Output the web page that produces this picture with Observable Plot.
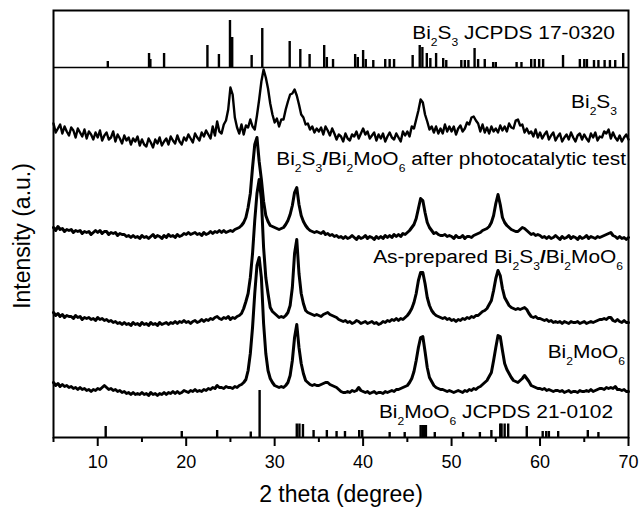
<!DOCTYPE html>
<html><head><meta charset="utf-8">
<script src="https://cdn.jsdelivr.net/npm/d3@7"></script>
<script src="https://cdn.jsdelivr.net/npm/@observablehq/plot@0.6"></script>
<style>html,body{margin:0;padding:0;background:#fff}</style>
</head><body><div id="chart"></div>
<script>
// ---- scan grid (2 theta, degree) ----
const thetaStart = 5, thetaStep = 0.25;

// ---- intensities (a.u., stacked as displayed) ----
const bi2s3 = [
314,305,309,313, 304,311,306,302, 310,307,300,309, 305,301,308,299, 306,303,298,305,
300,307,297,302, 305,298,300,306, 296,303,299,294, 302,297,300,293, 299,296,301,292,
298,293,291,299, 295,290,298,294, 300,292,296,299, 293,301,297,294, 302,296,293,300,
297,303,299,295, 304,300,297,305, 301,307,303,299, 311,302,316,306, 304,313,317,328,
350,343,320,310, 304,313,303,312, 310,318,311,308, 322,338,356,368, 360,349,334,323,
315,319,311,318, 318,328,336,343, 344,348,342,333, 323,320,313,314, 308,311,305,309,
306,310,303,311, 307,302,309,304, 298,303,301,296, 304,299,297,303, 301,306,299,304,
309,303,306,299, 302,305,297,303, 299,304,296,301, 305,300,298,304, 300,296,306,302,
306,301,311,309, 318,327,338,335, 323,316,308,311, 305,311,304,309, 304,313,306,311,
306,311,303,309, 312,306,309,315, 313,320,321,317, 314,306,313,305, 310,304,311,306,
309,305,312,307, 311,306,314,310, 309,317,318,312, 313,305,309,304, 306,301,308,300,
305,299,303,306, 298,302,305,297, 301,304,296,300, 303,298,305,300, 296,302,304,298,
303,299,296,304, 300,305,297,301, 300,306,304,308, 299,305,300,297, 302,296,300,303,
298];
const afterTest = [
210,207,211,208, 209,206,208,207, 208,205,207,206, 207,204,206,205, 206,203,205,207,
205,207,204,206, 206,203,205,204, 205,202,204,203, 203,201,202,200, 202,200,201,199,
202,200,201,199, 201,203,200,202, 201,199,202,200, 203,201,202,200, 203,201,202,204,
203,205,203,204, 205,203,204,202, 205,203,204,206, 204,206,205,207, 205,207,205,206,
207,206,208,209, 210,212,215,220, 230,244,270,293, 300,276,258,236, 222,216,212,211,
210,209,208,209, 210,213,217,223, 232,245,250,233, 222,216,212,209, 207,206,205,206,
205,204,206,203, 204,202,203,201, 202,200,201,199, 201,199,200,202, 200,198,201,199,
200,202,199,201, 200,198,201,199, 201,199,202,200, 202,200,203,201, 203,201,204,203,
205,207,210,213, 219,229,239,237, 225,215,210,207, 204,205,203,202, 202,203,201,202,
201,199,202,200, 200,202,199,201, 201,200,202,203, 204,205,207,208, 209,211,215,222,
234,243,233,220, 215,212,210,208, 207,206,206,208, 210,209,207,205, 203,204,202,203,
202,200,201,199, 201,199,200,202, 200,198,201,199, 200,202,199,201, 200,198,201,199,
200,202,199,201, 200,199,201,200, 201,202,203,204, 205,202,201,199, 201,199,200,198,
200];
const asPrepared = [
125,122,124,121, 123,120,122,121, 121,119,122,120, 121,118,120,119, 120,118,119,117,
120,118,119,117, 118,116,117,115, 116,114,115,113, 115,113,114,112, 115,113,114,112,
115,113,114,112, 115,113,114,112, 115,113,114,115, 113,115,114,116, 114,116,115,117,
115,116,114,116, 117,115,116,118, 116,118,117,119, 118,120,121,119, 118,120,119,121,
118,120,119,121, 122,124,129,136, 144,160,184,217, 244,258,238,190, 160,144,130,126,
124,122,120,121, 120,122,125,132, 150,184,198,164, 144,134,127,125, 124,123,122,123,
122,121,123,124, 125,123,122,121, 120,118,117,116, 117,115,116,114, 115,117,116,114,
115,116,114,115, 116,114,115,113, 114,116,115,117, 116,118,117,119, 117,119,118,120,
122,125,129,135, 144,157,165,165, 154,140,132,127, 124,122,121,120, 119,120,118,119,
117,118,116,118, 117,119,118,120, 119,121,120,122, 122,124,126,127, 129,133,137,147,
159,167,162,149, 140,136,132,130, 129,128,129,128, 129,130,128,124, 121,120,121,119,
119,118,117,118, 116,117,115,116, 115,116,114,116, 115,114,116,115, 115,116,114,115,
116,114,115,116, 115,116,117,118, 118,119,118,120, 120,117,116,118, 116,115,117,115,
115];
const bi2moo6 = [
55,52,54,51, 53,51,52,50, 51,49,50,48, 50,48,49,47, 48,46,48,47,
49,48,50,52, 50,48,49,47, 48,46,47,45, 46,44,45,43, 45,43,44,43,
45,43,44,42, 45,43,44,42, 44,43,45,43, 45,44,46,44, 46,44,45,47,
46,45,47,46, 48,46,47,46, 48,47,49,48, 50,49,52,50, 50,49,51,50,
50,49,51,50, 52,53,55,58, 67,84,110,144, 172,180,160,114, 84,67,59,55,
52,51,50,51, 50,52,55,62, 77,100,113,90, 74,64,57,55, 53,52,53,52,
52,53,54,55, 55,53,52,51, 50,48,46,45, 45,46,45,47, 46,47,50,47,
46,45,46,44, 45,46,44,45, 45,44,46,45, 46,47,46,48, 48,49,50,51,
52,55,59,66, 77,90,100,101, 86,70,60,56, 52,50,49,48, 48,47,46,47,
46,45,46,47, 46,45,47,46, 48,47,49,48, 50,51,53,55, 57,61,65,77,
90,102,101,87, 74,68,64,60, 57,56,55,57, 59,62,59,56, 52,51,50,49,
49,48,49,47, 48,47,46,47, 47,46,47,45, 46,47,45,46, 46,45,47,46,
46,47,46,48, 46,47,48,49, 49,48,50,49, 50,49,51,48, 48,47,48,46,
46];

// ---- reference patterns (stick positions and heights) ----
const refS_theta = [11.14,15.8,15.95,17.5,22.4,23.7,24.95,25.2,27.4,28.6,31.7,32.9,33.95,35.6,35.9,36.6,
  39.1,39.4,40.0,40.3,41.15,42.5,43.0,43.5,45.6,46.4,46.7,47.2,47.6,48.25,49.05,49.4,51.1,51.5,51.9,
  52.6,53.0,53.75,54.7,55.0,57.35,57.9,59.0,59.4,59.9,60.35,62.6,64.5,65.0,65.3,66.1,66.6,67.3,67.9,68.5,69.4];
const refS_int = [6,14,8,14,22,13,47,30,12,39,26,18,13,22,10,8,
  13,10,17,8,7,8,8,8,12,22,20,14,9,14,9,7,7,7,7,
  19,8,8,5,5,5,5,8,8,8,8,12,8,8,8,7,7,7,7,7,14];
const refM_theta = [10.9,19.5,23.5,27.3,28.3,32.5,32.8,33.2,34.4,35.9,37.0,37.95,39.56,39.9,43.0,44.7,
  46.5,46.7,46.9,47.1,48.1,51.3,53.2,54.5,55.5,55.65,56.0,56.4,58.5,60.3,60.7,61.0,62.05,65.4,66.6];
const refM_int = [11,6,7,5.5,47,13.5,13.5,13,7,7,6,6,7,7,5,5,
  12,12,12,12,5,5,5,7,13.5,13.5,13.5,13.5,11,6,6,6,6,7,5];

const xTicks = [10, 20, 30, 40, 50, 60, 70];
const xMinorTicks = [5, 15, 25, 35, 45, 55, 65];
const separatorLevel = 370;   // baseline of the Bi2S3 reference panel
const yTop = 427;

const seriesList = [["after", afterTest, 3], ["asprep", asPrepared, 3], ["Bi2MoO6", bi2moo6, 3], ["Bi2S3", bi2s3, 2.4]];
const sticksS = refS_theta.map((t, i) => ({theta: t, base: separatorLevel, top: separatorLevel + refS_int[i]}));
const sticksM = refM_theta.map((t, i) => ({theta: t, base: 0, top: refM_int[i]}));

const chart = Plot.plot({
  width: 641, height: 510,
  marginLeft: 53, marginRight: 13, marginTop: 10, marginBottom: 73,
  x: {domain: [5, 70]},
  y: {domain: [0, yTop], axis: null},
  style: {fontFamily: "'Liberation Sans', Arial, sans-serif", background: "white", color: "black"},
  marks: [
    Plot.ruleY([separatorLevel], {stroke: "black", strokeWidth: 1.6}),
    Plot.ruleX(sticksS, {x: "theta", y1: "base", y2: "top", stroke: "black", strokeWidth: 2.4}),
    Plot.ruleX(sticksM, {x: "theta", y1: "base", y2: "top", stroke: "black", strokeWidth: 2.4}),
    ...seriesList.map(([name, arr, w]) => Plot.line(arr, {
      x: (d, i) => thetaStart + i * thetaStep, y: d => d,
      stroke: "black", strokeWidth: w, strokeLinejoin: "round"})),
    Plot.frame({stroke: "black", strokeWidth: 2}),
    Plot.axisX({ticks: xTicks, tickSize: 9, tickPadding: 9, fontSize: 18, label: null, strokeWidth: 2}),
    Plot.axisX({ticks: xMinorTicks, tickSize: 5, tickFormat: () => "", label: null, strokeWidth: 2})
  ]
});

document.getElementById("chart").append(chart);

// ---- labels with chemical subscripts ----
const sx = chart.scale("x"), sy = chart.scale("y");
const svg = d3.select(chart);
const SUB = "sub", BOLD = "b";
function addLabel(parts, theta, level) {
  const t = svg.append("text")
    .attr("transform", `translate(${sx.apply(theta)},${sy.apply(level)}) scale(1.1,1)`)
    .attr("text-anchor", "end").attr("font-size", 19).attr("fill", "black")
    .attr("font-family", "'Liberation Sans', Arial, sans-serif");
  let down = false;
  for (const [s, kind] of parts) {
    const ts = t.append("tspan").text(s);
    if (kind === SUB) { ts.attr("font-size", 11); if (!down) ts.attr("dy", 7); down = true; }
    else { if (down) ts.attr("dy", -7); down = false; if (kind === BOLD) ts.attr("font-weight", "bold"); }
  }
}
addLabel([["Bi"],["2",SUB],["S"],["3",SUB],[" JCPDS 17-0320"]], 68.53, 398);
addLabel([["Bi"],["2",SUB],["S"],["3",SUB]], 68.76, 329);
addLabel([["Bi"],["2",SUB],["S"],["3",SUB],["/",BOLD],["Bi"],["2",SUB],["MoO"],["6",SUB],[" after photocatalytic test"]], 69.78, 272);
addLabel([["As-prepared Bi"],["2",SUB],["S"],["3",SUB],["/",BOLD],["Bi"],["2",SUB],["MoO"],["6",SUB]], 69.44, 174);
addLabel([["Bi"],["2",SUB],["MoO"],["6",SUB]], 69.66, 79);
addLabel([["Bi"],["2",SUB],["MoO"],["6",SUB],[" JCPDS 21-0102"]], 68.31, 19);

// axis titles
svg.append("text").attr("x", 341).attr("y", 502).attr("text-anchor", "middle")
  .attr("font-size", 23).attr("fill", "black").text("2 theta (degree)");
svg.append("text").attr("transform", "translate(30,236) rotate(-90)").attr("text-anchor", "middle")
  .attr("font-size", 23).attr("fill", "black").text("Intensity (a.u.)");
</script>
</body></html>
